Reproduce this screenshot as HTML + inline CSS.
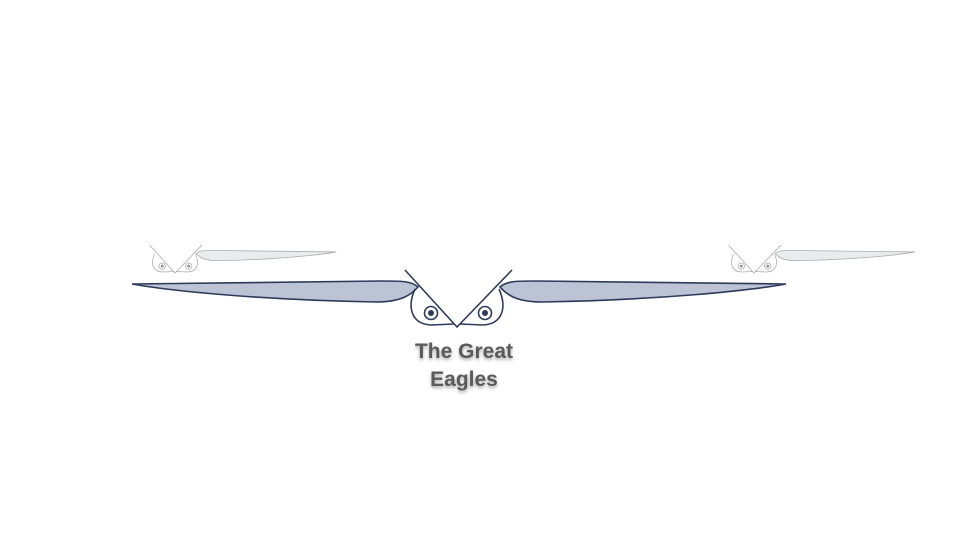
<!DOCTYPE html>
<html><head><meta charset="utf-8"><style>
html,body{margin:0;padding:0;background:#fff;width:960px;height:540px;overflow:hidden}
svg{display:block}
</style></head><body>
<svg width="960" height="540" viewBox="0 0 960 540">
<defs>
<filter id="sh" x="-20%" y="-20%" width="140%" height="160%"><feDropShadow dx="0" dy="2" stdDeviation="1.5" flood-color="#000" flood-opacity="0.35"/></filter>
<g id="eagle-body">
  <path d="M -52,-57 L 0,0 L 55,-57" fill="none" stroke-width="1.6"/>
  <path d="M -42,-38 C -50,-20 -46,-3 -26,-2 L -3,-3" fill="none" stroke-width="1.6"/>
  <path d="M 42,-38 C 50,-20 46,-3 26,-2 L 3,-3" fill="none" stroke-width="1.6"/>
  <circle cx="-26" cy="-14" r="6.5" fill="#fff" stroke-width="1.6"/>
  <circle cx="-26" cy="-14" r="3" stroke="none"/>
  <circle cx="28" cy="-14" r="6.5" fill="#fff" stroke-width="1.6"/>
  <circle cx="28" cy="-14" r="3" stroke="none"/>
</g>
<path id="right-wing" d="M 43,-40 C 50,-46 58,-46 80,-46 L 329,-43 C 290,-36 200,-27 85,-25 C 60,-25 50,-32 43,-40 Z" stroke-width="1.6"/>
</defs>

<g transform="translate(175,273) scale(0.49)" opacity="0.7">
  <g stroke="#8a8a8a" fill="#666"><use href="#eagle-body"/></g>
  <use href="#right-wing" fill="#dfe4e4" stroke="#8a8a8a"/>
</g>
<g transform="translate(754,273) scale(0.49)" opacity="0.7">
  <g stroke="#8a8a8a" fill="#666"><use href="#eagle-body"/></g>
  <use href="#right-wing" fill="#dfe4e4" stroke="#8a8a8a"/>
</g>

<g transform="translate(457,327)">
  <use href="#right-wing" fill="#bcc3d4" stroke="#2e3a5c"/>
  <g transform="scale(-1,1)"><use href="#right-wing" fill="#bcc3d4" stroke="#2e3a5c" transform="translate(-4,0)"/></g>
  <g stroke="#2e3a5c" fill="#2e3a5c"><use href="#eagle-body"/></g>
</g>

<g filter="url(#sh)" font-family="'Liberation Sans', sans-serif" font-weight="bold" font-size="21" fill="#5a5a5a" text-anchor="middle">
  <text x="464" y="358">The Great</text>
  <text x="464" y="386">Eagles</text>
</g>
</svg>
</body></html>
